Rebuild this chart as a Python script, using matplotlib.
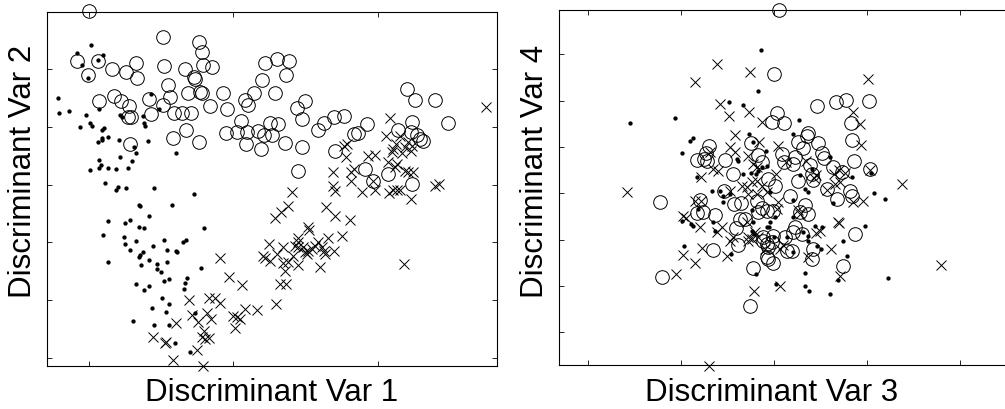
import matplotlib
matplotlib.use("Agg")
import matplotlib.pyplot as plt

# discriminant scores, three groups (o, ., x)
# panel 1: var1 vs var2
o_v1 = [0.000, 0.515, 0.760, 0.781, -0.081, 0.064, 0.328, 0.520, 0.792, 0.852,
        -0.005, 0.157, 0.258, 0.333, 0.663, 0.726, 0.735, 0.545, 0.684, 0.771,
        0.781, 0.561, 0.171, 0.220, 0.071, 0.279, 0.418, 0.513, 0.430, 0.268,
        0.291, 0.591, 0.647, 0.707, 0.839, 0.929, 0.958, 1.079, 1.104, 1.146,
        1.199, 1.222, 1.305, 1.286, 1.055, 0.947, 1.024, 1.093, 1.090, 1.169,
        1.192, 1.215, 1.254, 1.268, 0.670, 0.584, 0.760, 0.282, 1.386, 1.365,
        1.439, 1.499, 1.476, 1.312, 1.358, 1.474, 1.585, 1.631, 1.696, 1.769,
        1.839, 1.866, 1.929, 1.703, 2.204, 2.259, 2.398, 2.488, 2.143, 2.236,
        2.231, 2.271, 2.294, 2.317, 1.446, 1.913, 1.970, 2.074, 2.236]
o_v2 = [5.993, 5.544, 5.468, 5.285, 5.129, 5.129, 5.100, 5.053, 5.065, 5.036,
        4.898, 5.001, 4.944, 4.846, 4.991, 4.858, 4.818, 4.720, 4.582, 4.604,
        4.582, 4.507, 4.530, 4.449, 4.449, 4.362, 4.478, 4.375, 4.214, 4.167,
        4.173, 4.231, 4.231, 4.231, 4.362, 4.577, 4.305, 4.461, 4.375, 4.577,
        4.798, 5.095, 5.169, 4.577, 4.103, 3.891, 3.914, 3.914, 3.701, 3.931,
        3.615, 3.862, 4.059, 3.848, 3.948, 3.800, 3.741, 3.706, 5.129, 4.898,
        4.318, 4.449, 4.133, 4.047, 3.718, 3.655, 3.943, 4.064, 4.173, 4.190,
        3.874, 3.886, 4.047, 3.585, 4.646, 4.466, 4.466, 4.064, 3.943, 4.086,
        3.914, 3.857, 3.788, 3.758, 3.240, 3.269, 3.067, 3.183, 3.010]

d_v1 = [0.014, -0.081, 0.099, 0.062, -0.049, -0.005, -0.217, -0.208, -0.141, -0.019,
        0.071, -0.060, 0.007, 0.021, 0.090, 0.102, 0.215, 0.231, 0.430, 0.485,
        0.374, 0.381, 0.390, 0.062, 0.090, 0.088, 0.132, 0.210, 0.310, 0.326,
        0.215, 0.409, 0.601, 0.071, 0.083, 0.005, 0.067, 0.132, 0.189, 0.272,
        0.300, 0.109, 0.203, 0.187, 0.256, 0.450, 0.730, 0.349, 0.356, 0.573,
        0.130, 0.249, 0.286, 0.414, 0.349, 0.379, 0.797, 0.097, 0.243, 0.252,
        0.324, 0.286, 0.444, 0.522, 0.538, 0.603, 0.608, 0.654, 0.672, 0.344,
        0.353, 0.376, 0.418, 0.132, 0.362, 0.473, 0.543, 0.473, 0.497, 0.518,
        0.552, 0.326, 0.414, 0.379, 0.663, 0.681, 0.656, 0.776, 0.506, 0.439,
        0.552, 0.534, 0.307, 0.450, 0.552, 0.737, 0.596, 0.698]
d_v2 = [5.416, 5.267, 5.243, 5.157, 5.060, 4.841, 4.490, 4.237, 4.271, 4.207,
        4.300, 3.990, 4.059, 4.012, 3.948, 3.983, 4.207, 4.173, 4.560, 4.306,
        4.180, 4.059, 4.007, 3.741, 3.765, 3.800, 3.817, 3.770, 3.644, 3.551,
        3.482, 3.748, 3.551, 3.430, 3.344, 3.247, 3.282, 3.292, 3.264, 3.282,
        3.402, 3.022, 2.964, 2.907, 2.936, 2.946, 2.838, 2.648, 2.630, 2.642,
        2.371, 2.342, 2.394, 2.458, 2.263, 2.245, 2.256, 2.130, 2.100, 1.969,
        2.031, 1.876, 1.940, 2.038, 1.865, 1.853, 1.841, 2.003, 2.043, 1.755,
        1.784, 1.836, 1.703, 1.658, 1.606, 1.629, 1.668, 1.542, 1.490, 1.340,
        1.370, 1.288, 1.249, 1.180, 1.301, 1.382, 1.192, 1.554, 1.036, 0.874,
        0.943, 0.805, 0.639, 0.570, 0.575, 0.788, 0.269, 0.114]

x_v1 = [2.753, 2.088, 2.060, 1.788, 1.769, 1.781, 1.936, 1.982, 1.693, 1.839,
        1.816, 2.125, 2.109, 2.098, 2.190, 2.213, 2.236, 2.231, 2.167, 2.155,
        2.074, 2.132, 2.121, 2.190, 2.213, 2.247, 2.398, 2.428, 1.693, 1.816,
        1.970, 2.079, 2.109, 2.132, 2.155, 1.405, 1.890, 1.705, 1.982, 2.231,
        1.377, 1.331, 1.289, 1.640, 1.705, 1.811, 1.520, 1.525, 1.753, 1.654,
        1.446, 1.346, 1.301, 1.428, 1.450, 1.416, 1.450, 1.485, 1.497, 1.509,
        1.520, 1.543, 1.566, 1.589, 1.613, 1.631, 1.635, 1.698, 1.346, 1.381,
        1.358, 1.446, 1.601, 1.324, 1.363, 1.296, 2.185, 0.910, 0.968, 1.060,
        1.245, 1.208, 1.222, 1.254, 0.691, 0.830, 0.875, 0.908, 0.714, 0.820,
        0.755, 0.843, 0.605, 0.996, 1.024, 1.046, 1.083, 1.166, 1.010, 0.799,
        0.783, 0.806, 0.832, 0.446, 0.525, 0.534, 0.746, 0.582, 0.792]
x_v2 = [4.345, 4.145, 3.834, 3.701, 3.672, 3.472, 3.499, 3.511, 3.223, 3.269,
        3.212, 3.701, 3.615, 3.558, 3.644, 3.731, 3.672, 3.585, 3.546, 3.834,
        3.385, 3.356, 3.299, 3.240, 3.212, 3.212, 2.981, 3.010, 2.971, 3.067,
        3.067, 2.850, 2.907, 2.912, 2.907, 2.867, 2.877, 2.895, 2.907, 2.751,
        2.636, 2.522, 2.418, 2.608, 2.453, 2.389, 2.273, 2.216, 2.107, 2.073,
        2.078, 1.927, 1.801, 1.945, 2.003, 1.772, 1.917, 1.917, 1.831, 1.801,
        1.858, 1.888, 1.945, 2.003, 1.917, 1.858, 1.801, 1.858, 1.641, 1.658,
        1.513, 1.611, 1.582, 1.283, 1.283, 0.933, 1.629, 1.737, 1.399, 1.271,
        1.969, 1.772, 1.732, 1.675, 1.012, 1.036, 1.036, 0.950, 0.748, 0.788,
        0.622, 0.679, 0.604, 0.736, 0.708, 0.679, 0.846, 0.834, 0.518, 0.477,
        0.363, 0.338, 0.351, 0.363, 0.269, 0.282, 0.143, -0.035, -0.128]

# panel 2: var3 vs var4
o_v3 = [0.054, -0.003, 0.456, 0.663, 0.776, 1.022, 0.032, -0.025, 0.104, 0.825,
        0.832, 0.359, 0.348, 0.258, 0.465, 0.309, 0.508, 0.534, 0.083, 0.104,
        0.223, 0.198, 0.389, 0.626, 0.725, 0.860, 1.029, 0.258, 0.419, 0.004,
        0.563, 0.814, -0.247, -0.175, -0.132, -0.702, -0.734, -0.826, -0.756, -0.724,
        -0.535, -0.441, -0.544, -0.794, -1.226, -0.834, -0.763, -0.638, -0.433, -0.353,
        -0.412, -0.369, -0.315, -0.387, -0.656, -1.211, -0.234, -0.261, -0.186, -0.132,
        -0.082, -0.011, -0.118, -0.082, -0.065, 0.169, 0.832, 0.676, 0.330, 0.357,
        0.276, -0.172, 0.223, 0.204, 0.295, -0.011, 0.115, -0.118, -0.028, -0.065,
        0.133, 0.187, 0.419, 0.402, -0.082, -0.011, 0.868, 0.744, 0.402, -0.065]
o_v4 = [3.968, 2.578, 1.876, 1.980, 2.006, 1.995, 1.729, 1.534, 1.519, 1.513,
        1.141, 1.308, 1.228, 1.102, 1.094, 0.968, 0.871, 0.763, 0.849, 0.670,
        0.778, 0.633, 0.612, 0.568, 0.450, 0.694, 0.514, 0.266, 0.287, 0.147,
        0.082, 0.039, 1.087, 0.828, 0.670, 1.011, 0.871, 0.720, 0.741, 0.687,
        0.720, 0.417, 0.039, -0.145, -0.195, -0.426, -0.411, -0.473, -0.242, -0.220,
        -0.750, -0.555, -0.555, -1.117, -1.225, -1.815, -1.625, -2.429, -0.156, -0.318,
        -0.376, -0.376, -0.951, -1.096, -1.420, -0.052, -0.052, -0.123, -0.264, -0.447,
        -0.411, -0.411, -0.735, -0.847, -0.880, -0.916, -0.951, -1.024, -1.059, -1.167,
        -1.258, -1.258, -1.204, -1.420, -1.383, -1.506, -0.880, -1.565, 0.417, 0.309]

d_v3 = [-1.552, -1.071, -0.906, -0.871, -0.989, -0.492, -0.340, -0.269, -0.404, -0.387,
        -0.834, -0.673, -0.584, -0.333, -0.254, -0.172, -0.135, -0.082, -0.226, -0.146,
        -0.172, 0.266, 0.204, -0.092, 0.599, 0.402, 0.276, 0.832, 1.040, 1.075,
        0.330, 0.366, -0.046, -0.200, -0.476, -0.996, -0.899, -0.877, -0.548, -0.656,
        -0.638, -0.968, -0.466, -0.243, -0.817, -0.226, -0.197, -0.082, -0.548, 1.190,
        0.634, 0.204, -0.243, 0.008, 0.204, -0.057, -0.215, 0.000, 0.137, 0.438,
        0.510, 0.312, 0.366, 0.456, 0.502, 0.742, 0.975, 0.779, 0.330, 0.015,
        0.330, 0.373, 0.602, 0.682, 1.226, 0.204, -0.046, 0.366]
d_v4 = [1.519, 1.621, 1.137, 1.189, 0.860, 1.967, 1.908, 1.282, 0.741, 0.705,
        0.346, 0.056, 0.043, 0.417, 0.432, 0.488, 0.562, 0.596, 1.102, 3.103,
        2.217, 1.591, 1.282, 0.921, 0.791, 0.525, 0.385, 0.359, 0.439, 0.011,
        0.093, 0.022, 0.035, 0.417, -0.015, -0.592, -0.663, -0.700, -0.195, -0.627,
        -0.808, -1.132, -1.312, -0.808, -0.339, -0.627, -1.744, -0.735, -0.052, -0.123,
        -0.216, -0.145, -0.361, -0.519, -0.519, -0.722, -0.880, -0.938, -0.938, -0.700,
        -0.735, -0.843, -1.024, -1.132, -1.204, -1.024, -0.700, -1.349, -1.729, -1.960,
        -1.997, -2.118, -2.176, -1.867, -1.837, -1.275, -0.627, -0.916]

x_v3 = [-0.619, -0.853, -0.261, -0.584, -0.484, -0.272, -0.423, -0.135, -0.165, -0.476,
        -0.423, -0.691, -0.656, -0.602, -0.790, -0.283, -0.234, -0.189, -0.476, -0.351,
        -0.297, -0.243, -0.189, -0.135, -0.082, -0.189, -0.280, 1.011, 0.850, 0.925,
        0.936, 0.043, 0.126, 0.016, 0.339, 0.448, 0.425, 0.563, 0.653, 0.706,
        0.642, 0.696, 0.755, 1.029, 1.373, -1.581, -0.853, -0.788, -0.982, -0.950,
        -0.794, -0.611, -0.566, -0.777, -0.987, -0.853, -1.055, -0.476, -0.441, -0.512,
        -0.702, -0.218, -0.297, -0.288, -0.100, 0.850, 0.957, 0.685, 0.701, 0.610,
        0.357, 0.706, 0.061, 1.793, 0.258, 0.276, 0.446, 0.491, -0.208, -0.172,
        -0.243, -0.280, 0.043, 0.026, 0.094, 0.061]
x_v4 = [2.794, 2.399, 2.615, 1.919, 1.677, 1.751, 1.253, 1.541, 1.102, 0.994,
        0.886, 0.886, 0.525, 0.488, 0.346, 0.795, 0.633, 0.562, 0.056, 0.164,
        0.130, 0.238, 0.272, 0.164, 0.022, -0.015, -0.015, 2.470, 1.751, 1.491,
        1.037, 1.029, 0.666, 0.417, 0.698, 0.400, 0.326, 0.076, 0.201, 0.238,
        0.417, 0.493, 0.428, 0.510, 0.201, 0.017, -0.160, -0.177, -0.484, -0.534,
        -0.735, -0.843, -0.735, -1.176, -1.340, -1.506, -1.744, -1.042, -0.934, -1.349,
        -3.726, -2.105, -0.627, -0.951, -1.204, -0.195, -0.160, -0.627, -0.642, -1.204,
        -1.383, -1.781, -2.003, -1.550, -0.361, -0.447, -0.862, -0.808, -0.843, -0.951,
        -0.988, -1.024, -0.195, -0.339, -1.128, -1.204]

panels = [
    dict(xs=(o_v1, d_v1, x_v1), ys=(o_v2, d_v2, x_v2),
         xlim=(-0.289, 2.825), ylim=(-0.128, 5.986),
         xticks=[0, 1, 2], yticks=[0, 1, 2, 3, 4, 5],
         xlabel="Discriminant Var 1", ylabel="Discriminant Var 2",
         rect=[0.0471, 0.1056, 0.4471, 0.8634], xlab=(0.5, -0.033), ylab=(-0.021, 0.553)),
    # right-hand box runs off the edge of the picture
    dict(xs=(o_v3, d_v3, x_v3), ys=(o_v4, d_v4, x_v4),
         xlim=(-2.312, 2.620), ylim=(-3.711, 3.961),
         xticks=[-2, -1, 0, 1, 2], yticks=[-3, -2, -1, 0, 1, 2, 3],
         xlabel="Discriminant Var 3", ylabel="Discriminant Var 4",
         rect=[0.5565, 0.1073, 0.4564, 0.8659], xlab=(0.4625, -0.033), ylab=(-0.021, 0.548)),
]

plt.rcParams["font.family"] = ["Liberation Sans", "DejaVu Sans"]
fig = plt.figure(figsize=(10.05, 4.10), dpi=100)

for p in panels:
    ax = fig.add_axes(p["rect"])
    (xo, xd, xx), (yo, yd, yx) = p["xs"], p["ys"]
    ax.plot(xo, yo, "o", ms=9.8, mfc="none", mec="black", mew=0.7, clip_on=False)
    ax.plot(xd, yd, ".", ms=4.2, color="black", clip_on=False)
    ax.plot(xx, yx, "x", ms=6.5, color="black", mew=0.7, clip_on=False)
    ax.set_xlim(*p["xlim"]); ax.set_ylim(*p["ylim"])
    ax.set_xticks(p["xticks"]); ax.set_yticks(p["yticks"])
    ax.tick_params(direction="in", length=3.5, width=0.6, top=True, right=True,
                   labelbottom=False, labelleft=False)
    for s in ax.spines.values():
        s.set_linewidth(0.8)
    ax.set_xlabel(p["xlabel"], fontsize=22.5)
    ax.xaxis.set_label_coords(*p["xlab"], transform=ax.transAxes)
    ax.xaxis.label.set_va("top")
    ax.set_ylabel(p["ylabel"], fontsize=22.5)
    ax.yaxis.set_label_coords(*p["ylab"], transform=ax.transAxes)

fig.savefig("out.png", dpi=100)
